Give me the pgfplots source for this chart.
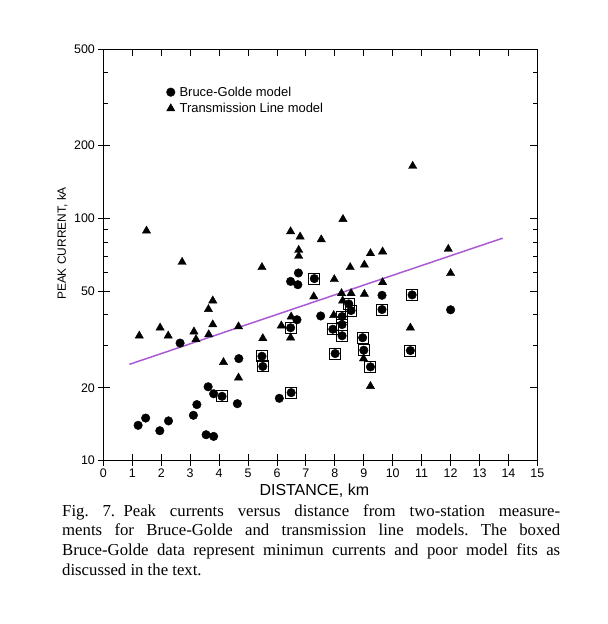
\documentclass[border=0pt]{standalone}
\usepackage{pgfplots}
\pgfplotsset{compat=1.18}
\usepackage{fontspec}
\setmainfont{Liberation Serif}
\newfontfamily\lblfont{Liberation Sans}
\definecolor{fitline}{RGB}{170,90,210}

\pgfplotstableread{
x y
1.24 32.8
1.49 89.0
1.96 35.4
2.24 32.8
2.72 66.1
3.13 34.1
3.20 31.7
3.63 42.2
3.78 45.8
3.78 36.5
3.64 33.2
4.15 25.5
4.67 35.8
4.67 22.0
5.48 62.9
5.51 32.0
6.15 36.1
6.47 88.4
6.80 84.1
6.75 74.1
6.75 70.0
6.49 39.3
6.47 32.2
7.53 81.9
7.27 47.6
7.98 56.1
8.28 99.4
8.53 62.9
8.23 49.1
7.96 39.9
8.56 49.1
8.27 45.8
9.02 48.8
9.02 64.4
9.23 71.8
9.65 73.0
9.65 54.5
10.61 35.4
9.23 20.3
8.99 26.4
10.69 164.7
11.92 74.8
12.00 59.4
}\tltable

\pgfplotstableread{
x y
1.20 14.0
1.46 15.0
1.95 13.3
2.25 14.6
2.65 30.6
3.11 15.4
3.23 17.05
3.55 12.8
3.81 12.6
3.62 20.2
3.81 18.9
4.68 26.4
4.63 17.2
6.08 18.1
6.47 55.0
6.74 59.6
6.72 53.3
6.69 38.2
7.51 39.6
9.63 48.2
12.00 42.0
}\bgtable

\pgfplotstableread{
x y
4.10 18.45
5.48 27.0
5.51 24.5
6.47 35.4
6.49 19.1
7.29 56.5
7.93 34.9
8.01 27.7
8.25 39.4
8.25 36.5
8.25 32.8
8.48 44.4
8.56 41.7
8.96 32.2
9.00 28.6
9.23 24.4
9.63 42.1
10.61 28.5
10.67 48.4
}\boxtable

\begin{document}
\begin{tikzpicture}
\begin{axis}[
  scale only axis, width=434bp, height=411.4bp,
  xmin=0, xmax=15, ymode=log, ymin=10, ymax=500,
  xtick={0,1,...,15}, ytick={10,20,50,100,200,500},
  minor ytick={30,40,60,70,80,90,300,400},
  xticklabels={}, yticklabels={},
  tick align=inside, major tick length=7bp, minor tick length=4.5bp,
  every tick/.style={black, line width=0.9bp},
  axis line style={line width=1.1bp},
  xlabel={DISTANCE, km},
  ylabel={PEAK CURRENT, kA},
  xlabel style={font=\lblfont\fontsize{16}{16}\selectfont, at={(axis description cs:0.486,0)}, yshift=-30bp, anchor=center},
  ylabel style={font=\lblfont\fontsize{12}{12}\selectfont, at={(axis description cs:-0.0945,0.528)}, anchor=center},
  legend style={draw=none, fill=none, font=\lblfont\fontsize{13}{13}\selectfont,
    at={(axis description cs:0.138,0.918)}, anchor=north west, row sep=2.5bp,
    nodes={inner sep=1.5bp},
    /tikz/every odd column/.append style={column sep=3bp}},
  legend cell align=left,
]
\addplot[only marks, mark=*, mark size=4.3bp, black] table {\bgtable};
\addlegendentry{Bruce-Golde model}
\addplot[only marks, mark=triangle*, mark size=4.8bp, black] table {\tltable};
\addlegendentry{Transmission Line model}
\addplot[only marks, mark=square, mark size=5.5bp, black, line width=1bp, forget plot] table {\boxtable};
\addplot[only marks, mark=*, mark size=4.3bp, black, forget plot] table {\boxtable};
\addplot[fitline, line width=1.5bp, forget plot] coordinates {(0.9,25.0) (13.8,83.0)};
\end{axis}
\begin{axis}[
  scale only axis, width=434bp, height=411.4bp,
  xmin=0, xmax=15, ymode=log, ymin=10, ymax=500,
  axis x line*=bottom, axis y line*=left,
  axis line style={line width=1.1bp},
  xtick={0,1,...,15}, ytick={10,20,50,100,200,500},
  yticklabels={10,20,50,100,200,500},
  minor ytick={}, 
  tick align=outside, major tick length=5bp,
  every tick/.style={black, line width=0.9bp},
  ticklabel style={font=\lblfont\fontsize{12.5}{12.5}\selectfont},
  /pgf/number format/assume math mode=true,
]
\end{axis}
\node[anchor=base west, inner sep=0pt] at (-41.4bp,-55.3bp) {\parbox[t]{498bp}{\fontsize{16.8}{20}\selectfont\frenchspacing
\makebox[498bp][s]{Fig.~7.\enspace Peak currents versus distance from two-station measure-}\\
\makebox[498bp][s]{ments for Bruce-Golde and transmission line models. The boxed}\\
\makebox[498bp][s]{Bruce-Golde data represent minimun currents and poor model fits as}\\
discussed in the text.}};
\pgfresetboundingbox
\useasboundingbox (-103.4bp,-163.3bp) rectangle (504.6bp,460.7bp);
\end{tikzpicture}
\end{document}
